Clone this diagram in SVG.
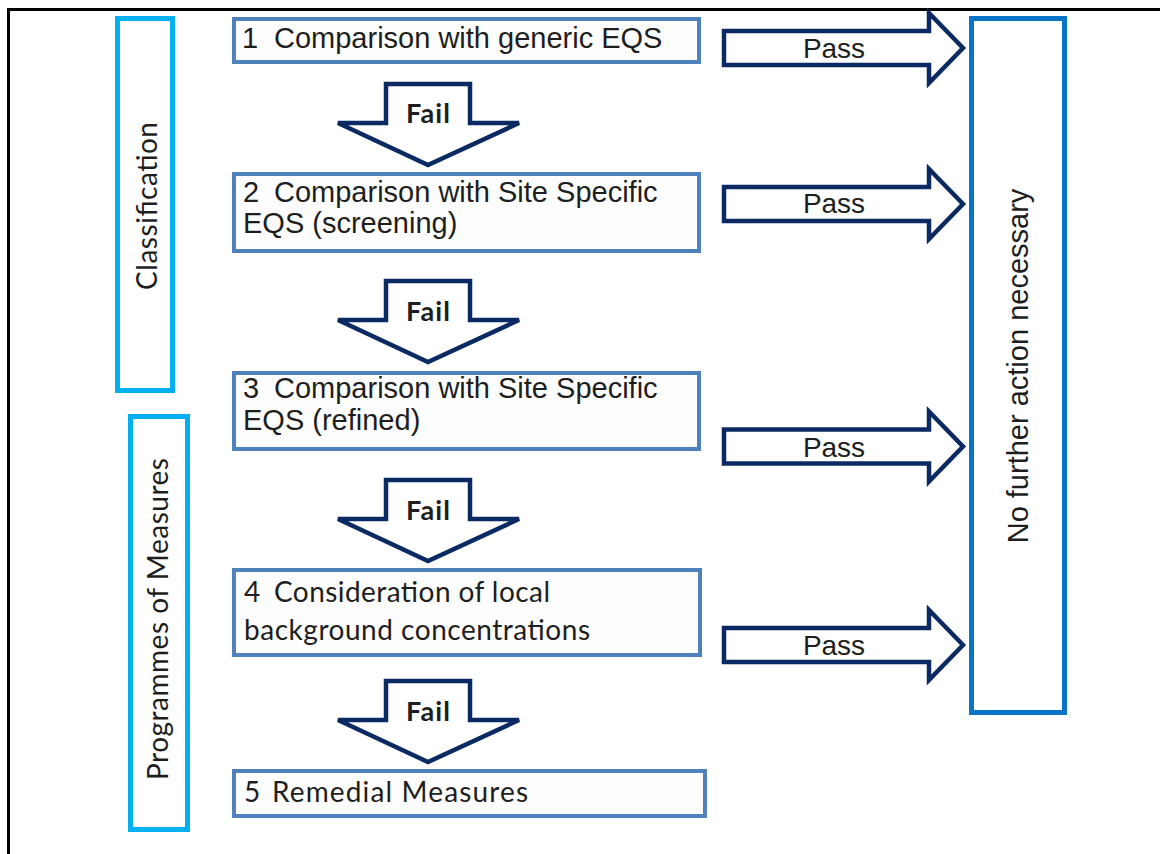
<svg xmlns="http://www.w3.org/2000/svg" width="1160" height="854" viewBox="0 0 1160 854">
<style>
.box{fill:#fdfdfd;stroke:#4f81bd;stroke-width:4}
.side{fill:#ffffff;stroke:#00b0f0;stroke-width:5}
.right{fill:#ffffff;stroke:#0a74c8;stroke-width:5}
.arr{fill:#ffffff;stroke:#0b2a63;stroke-width:4.5;stroke-linejoin:miter}
.ar{font-family:"Liberation Sans",Arial,sans-serif;font-size:29px;fill:#1e1e1e}
.ca{font-family:Lato,"Open Sans",sans-serif;font-size:28px;fill:#1e1e1e}
.fail{font-family:Lato,"Open Sans",sans-serif;font-size:27px;font-weight:bold;fill:#1e1e1e}
.pass{font-family:"Liberation Sans",Arial,sans-serif;font-size:28px;fill:#1e1e1e}
</style>
<rect x="0" y="0" width="1160" height="854" fill="#ffffff"/>
<g id="frame" stroke="#000" stroke-width="3" fill="none">
<line x1="8" y1="9.5" x2="1160" y2="9.5"/>
<line x1="8.5" y1="8" x2="8.5" y2="854"/>
</g>
<g id="classification">
<rect class="side" x="117.5" y="18.5" width="55" height="372"/>
<text class="ca" transform="translate(157,206) rotate(-90)" text-anchor="middle" textLength="168" lengthAdjust="spacing">Classification</text>
</g>
<g id="programmes">
<rect class="side" x="130.5" y="416.5" width="57" height="413"/>
<text class="ca" transform="translate(168,619) rotate(-90)" text-anchor="middle" textLength="322" lengthAdjust="spacing">Programmes of Measures</text>
</g>
<g id="no-further-action">
<rect class="right" x="971.5" y="18.5" width="93" height="694"/>
<text class="ar" transform="translate(1028,366) rotate(-90)" text-anchor="middle">No further action necessary</text>
</g>
<g id="step1">
<rect class="box" x="234" y="19" width="465" height="43"/>
<text class="ar" x="242" y="48">1</text>
<text class="ar" x="274" y="48">Comparison with generic EQS</text>
</g>
<g id="step2">
<rect class="box" x="234" y="174" width="465" height="77"/>
<text class="ar" x="243" y="202">2</text>
<text class="ar" x="274" y="202">Comparison with Site Specific</text>
<text class="ar" x="243" y="233">EQS (screening)</text>
</g>
<g id="step3">
<rect class="box" x="234" y="373" width="465" height="76"/>
<text class="ar" x="243" y="398">3</text>
<text class="ar" x="274" y="398">Comparison with Site Specific</text>
<text class="ar" x="243" y="430">EQS (refined)</text>
</g>
<g id="step4">
<rect class="box" x="234" y="570" width="466" height="85"/>
<text class="ca" x="244" y="602">4</text>
<text class="ca" x="274" y="602" textLength="276" lengthAdjust="spacing">Consideration of local</text>
<text class="ca" x="244" y="640" textLength="346" lengthAdjust="spacing">background concentrations</text>
</g>
<g id="step5">
<rect class="box" x="234" y="771" width="471" height="45"/>
<text class="ca" x="244" y="802">5</text>
<text class="ca" x="272" y="802" textLength="256" lengthAdjust="spacing">Remedial Measures</text>
</g>
<g id="connectors">
<path class="arr" d="M386,84 H470 V123 H519 L428,165 L338,123 H386 Z"/>
<text class="fail" x="428" y="123" text-anchor="middle" textLength="44" lengthAdjust="spacing">Fail</text>
<path class="arr" d="M386,281 H470 V320 H519 L428,362 L338,320 H386 Z"/>
<text class="fail" x="428" y="321" text-anchor="middle" textLength="44" lengthAdjust="spacing">Fail</text>
<path class="arr" d="M386,480 H470 V519 H519 L428,561 L338,519 H386 Z"/>
<text class="fail" x="428" y="520" text-anchor="middle" textLength="44" lengthAdjust="spacing">Fail</text>
<path class="arr" d="M386,681 H470 V720 H519 L428,762 L338,720 H386 Z"/>
<text class="fail" x="428" y="721" text-anchor="middle" textLength="44" lengthAdjust="spacing">Fail</text>
<path class="arr" d="M724,31 H929 V13 L963,48 L929,83 V65 H724 Z"/>
<text class="pass" x="834" y="58" text-anchor="middle">Pass</text>
<path class="arr" d="M724,187 H929 V169 L963,204 L929,239 V221 H724 Z"/>
<text class="pass" x="834" y="213" text-anchor="middle">Pass</text>
<path class="arr" d="M724,429.5 H929 V411.5 L963,446.5 L929,481.5 V463.5 H724 Z"/>
<text class="pass" x="834" y="457" text-anchor="middle">Pass</text>
<path class="arr" d="M724,628 H929 V610 L963,645 L929,680 V662 H724 Z"/>
<text class="pass" x="834" y="655" text-anchor="middle">Pass</text>
</g>
</svg>
